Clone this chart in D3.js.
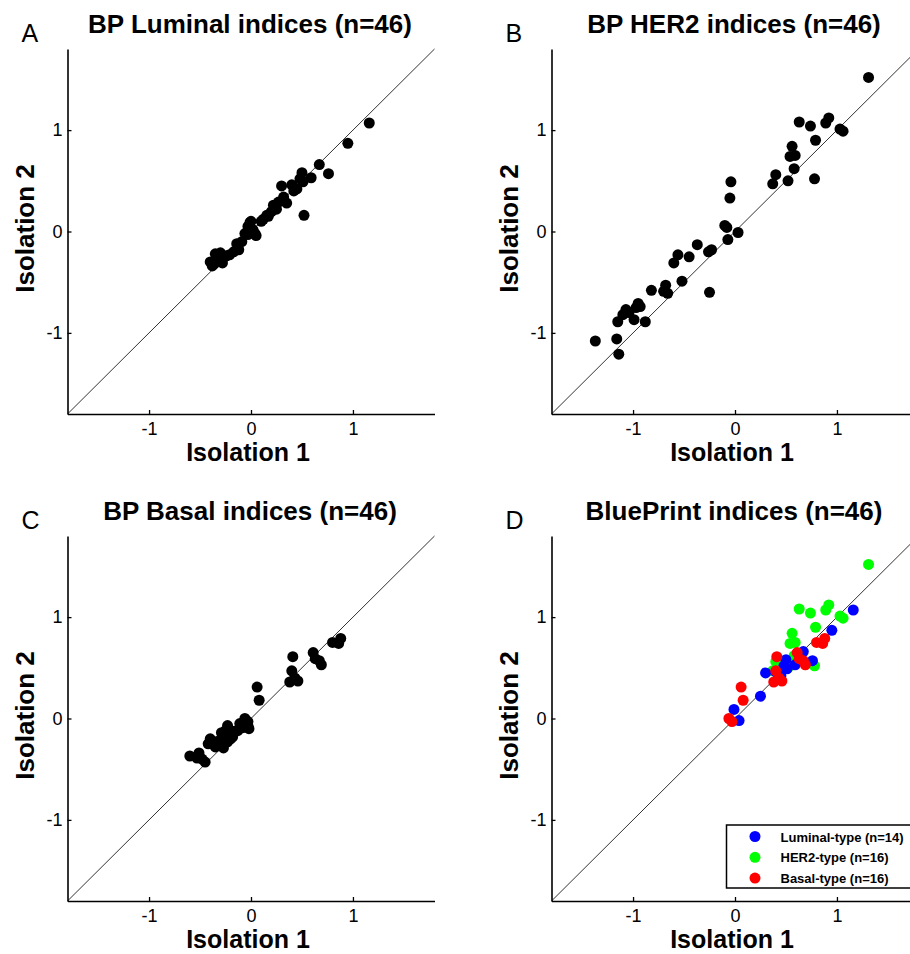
<!DOCTYPE html>
<html>
<head>
<meta charset="utf-8">
<script src="https://cdn.jsdelivr.net/npm/d3@7"></script>
<style>
body { margin: 0; background: #fff; }
svg { display: block; font-family: Arial, "Liberation Sans", sans-serif; }
</style>
</head>
<body>
<div id="fig"></div>
<script>
'use strict'

const tickValues = [-1, 0, 1];
const axisDomain = [-1.8, 1.8];

// BP luminal index, isolation 1 vs isolation 2 (first 14 = luminal-type)
const lumX = [1.16, 0.95, 0.67, 0.76, 0.59, 0.50, 0.51, 0.40, 0.30, 0.25, -0.01, 0.04, 0.45, 0.48,
    0.52, 0.42, 0.35, 0.27, 0.20, 0.155, 0.12, 0.10, 0.17, 0.00, -0.03, 0.02, -0.06, 0.05, -0.03, -0.09,
    -0.14, -0.12, -0.17, -0.21, -0.24, -0.26, -0.30, -0.32, -0.35, -0.30, -0.36, -0.40, -0.38, -0.28, 0.22, 0.32];
const lumY = [1.07, 0.87, 0.66, 0.57, 0.53, 0.58, 0.49, 0.46, 0.45, 0.22, 0.09, -0.02, 0.42, 0.52,
    0.16, 0.40, 0.28, 0.29, 0.195, 0.16, 0.12, 0.10, 0.15, 0.10, 0.05, 0.015, -0.02, -0.04, -0.03, -0.10,
    -0.12, -0.18, -0.20, -0.23, -0.24, -0.25, -0.29, -0.26, -0.22, -0.21, -0.32, -0.30, -0.34, -0.31, 0.26, 0.34];

// BP HER2 index (first 16 = HER2-type)
const her2X = [1.31, 0.63, 0.74, 0.89, 0.92, 1.03, 1.06, 0.79, 0.56, 0.54, 0.59, 0.58, 0.78, 0.40, 0.37, 0.52,
    -0.04, -0.05, -0.10, -0.08, 0.03, -0.07, -0.23, -0.26, -0.37, -0.45, -0.56, -0.60, -0.52, -0.25,
    -0.68, -0.70, -0.66, -0.82, -0.95, -0.97, -0.93, -1.07, -1.10, -1.15, -0.99, -0.88, -1.37, -1.16, -1.14, -1.04];
const her2Y = [1.52, 1.08, 1.04, 1.07, 1.12, 1.01, 0.99, 0.90, 0.84, 0.74, 0.75, 0.62, 0.52, 0.56, 0.47, 0.50,
    0.49, 0.33, 0.06, 0.04, -0.01, -0.08, -0.18, -0.20, -0.13, -0.25, -0.23, -0.31, -0.49, -0.60,
    -0.53, -0.59, -0.61, -0.58, -0.71, -0.75, -0.74, -0.77, -0.82, -0.89, -0.87, -0.89, -1.08, -1.06, -1.21, -0.80];

// BP basal index (first 16 = basal-type)
const basX = [0.88, 0.86, 0.80, 0.61, 0.67, 0.69, 0.41, 0.40, 0.38, 0.46, 0.43, 0.06, 0.08, -0.06, -0.03, 0.63,
    -0.03, -0.06, -0.02, -0.11, -0.16, -0.20, -0.23, -0.25, -0.28, -0.23, -0.30, -0.31, -0.34, -0.35,
    -0.40, -0.42, -0.48, -0.51, -0.53, -0.60, -0.45, -0.20, -0.27, -0.22, -0.18, -0.26, -0.08, -0.38, -0.13, -0.29];
const basY = [0.79, 0.74, 0.75, 0.65, 0.57, 0.53, 0.61, 0.47, 0.36, 0.37, 0.40, 0.31, 0.18, 0.00, -0.03, 0.59,
    -0.07, -0.04, -0.10, -0.05, -0.125, -0.20, -0.07, -0.12, -0.17, -0.23, -0.26, -0.22, -0.23, -0.28,
    -0.20, -0.25, -0.40, -0.34, -0.39, -0.37, -0.43, -0.15, -0.29, -0.10, -0.18, -0.20, -0.09, -0.23, -0.12, -0.14];

const legendLabels = ['Luminal-type (n=14)', 'HER2-type (n=16)', 'Basal-type (n=16)'];
const typeColors = ['#0000ff', '#00ff00', '#ff0000'];

const pts = (xs, ys) => xs.map((x, i) => ({x: x, y: ys[i]}));

const panels = [
    {letter: 'A', title: 'BP Luminal indices (n=46)', left: 67.5, top: 49,
     series: [{pts: pts(lumX, lumY), color: '#000'}]},
    {letter: 'B', title: 'BP HER2 indices (n=46)', left: 551.5, top: 49,
     series: [{pts: pts(her2X, her2Y), color: '#000'}]},
    {letter: 'C', title: 'BP Basal indices (n=46)', left: 67.5, top: 536,
     series: [{pts: pts(basX, basY), color: '#000'}]},
    {letter: 'D', title: 'BluePrint indices (n=46)', left: 551.5, top: 536, legend: true,
     series: [
        {pts: pts(her2X.slice(0, 16), her2Y.slice(0, 16)), color: typeColors[1]},
        {pts: pts(lumX.slice(0, 14), lumY.slice(0, 14)), color: typeColors[0]},
        {pts: pts(basX.slice(0, 16), basY.slice(0, 16)), color: typeColors[2]}
     ]}
];

const W = 367, H = 365;

const svg = d3.select('#fig').append('svg')
    .attr('width', 910)
    .attr('height', 954);
svg.append('rect').attr('width', 910).attr('height', 954).attr('fill', '#fff');

panels.forEach(p => {
    const g = svg.append('g').attr('transform', `translate(${p.left},${p.top})`);
    const x = d3.scaleLinear().domain(axisDomain).range([0, W]);
    const y = d3.scaleLinear().domain(axisDomain).range([H, 0]);

    // identity line
    g.append('line')
        .attr('x1', x(axisDomain[0])).attr('y1', y(axisDomain[0]))
        .attr('x2', x(axisDomain[1])).attr('y2', y(axisDomain[1]))
        .attr('stroke', '#333').attr('stroke-width', 1);

    p.series.forEach(s => {
        g.append('g').selectAll('circle')
            .data(s.pts)
            .enter().append('circle')
            .attr('cx', d => x(d.x))
            .attr('cy', d => y(d.y))
            .attr('r', 5.5)
            .attr('fill', s.color);
    });

    const xAxis = g.append('g')
        .attr('transform', `translate(0,${H})`)
        .call(d3.axisBottom(x).tickValues(tickValues).tickFormat(d3.format('d'))
            .tickSizeInner(-4).tickSizeOuter(0).tickPadding(8));
    const yAxis = g.append('g')
        .call(d3.axisLeft(y).tickValues(tickValues).tickFormat(d3.format('d'))
            .tickSizeInner(-4).tickSizeOuter(0).tickPadding(5));
    [xAxis, yAxis].forEach(a => {
        a.select('.domain').attr('stroke', '#000').attr('stroke-width', 1.6);
        a.selectAll('.tick line').attr('stroke', '#000').attr('stroke-width', 1.3);
        a.selectAll('.tick text')
            .attr('font-family', 'Arial, "Liberation Sans", sans-serif')
            .attr('font-size', 18).attr('fill', '#000')
            .text(d => d < 0 ? '-' + Math.abs(d) : d);
    });

    // axis labels
    g.append('text')
        .attr('x', W / 2 - 3).attr('y', H + 47)
        .attr('text-anchor', 'middle')
        .attr('font-size', 25).attr('font-weight', 'bold')
        .text('Isolation 1');
    g.append('text')
        .attr('transform', `translate(-34,${H / 2 - 3}) rotate(-90)`)
        .attr('text-anchor', 'middle')
        .attr('font-size', 26).attr('font-weight', 'bold')
        .text('Isolation 2');

    // title and panel letter
    g.append('text')
        .attr('x', W / 2 - 1).attr('y', -16)
        .attr('text-anchor', 'middle')
        .attr('font-size', 26).attr('font-weight', 'bold')
        .text(p.title);
    g.append('text')
        .attr('x', -46).attr('y', -7)
        .attr('font-size', 25)
        .text(p.letter);

    if (p.legend) {
        const lg = g.append('g').attr('transform', `translate(${175},${289})`);
        lg.append('rect')
            .attr('width', 190).attr('height', 63)
            .attr('fill', '#fff').attr('stroke', '#000').attr('stroke-width', 1.5);
        const item = lg.selectAll('.item')
            .data(legendLabels)
            .enter().append('g')
            .attr('class', 'item')
            .attr('transform', (d, i) => `translate(0,${11.5 + i * 20.8})`);
        item.append('circle')
            .attr('cx', 28.5).attr('r', 5.5)
            .attr('fill', (d, i) => typeColors[i]);
        item.append('text')
            .attr('x', 54).attr('y', 5)
            .attr('font-size', 13).attr('font-weight', 'bold')
            .text(d => d);
    }
});
</script>
</body>
</html>
